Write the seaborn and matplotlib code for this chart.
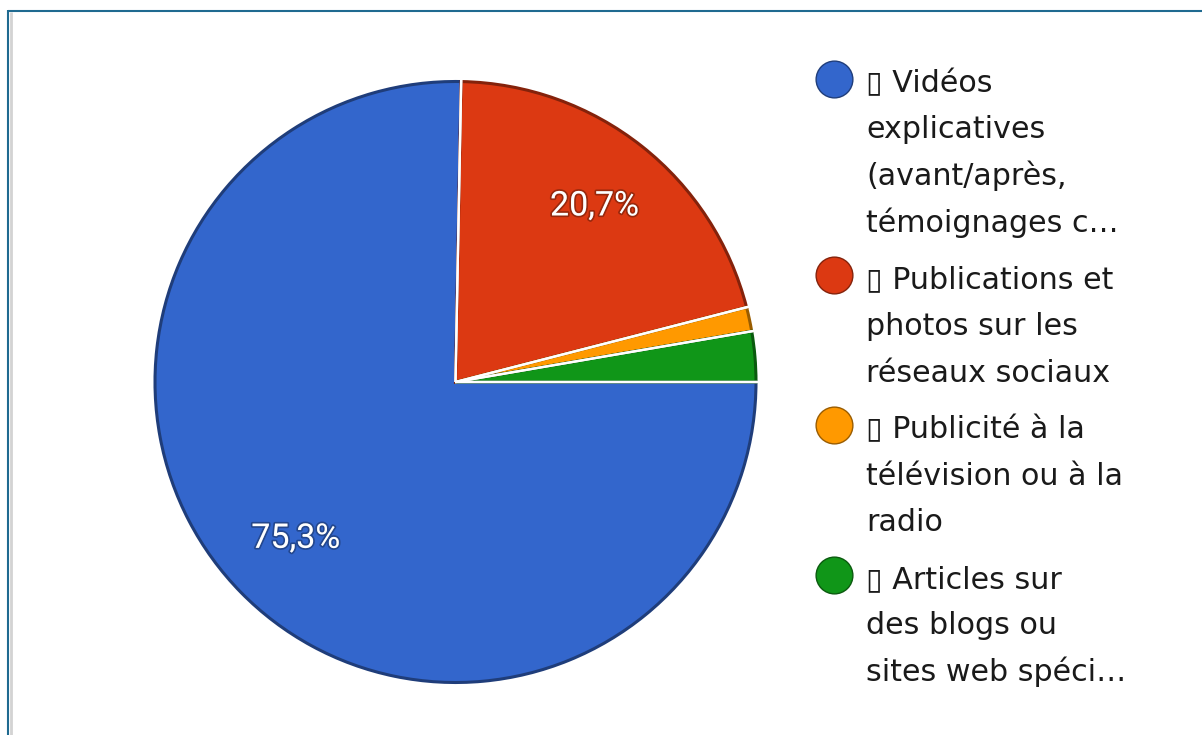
import numpy as np
import matplotlib
matplotlib.use("Agg")
import matplotlib.pyplot as plt
import matplotlib.patheffects as pe
from matplotlib.colors import to_rgb
import seaborn as sns

# Survey answers (wrapped as shown in the legend) and their shares in percent
labels = [
    "▯ Vidéos\nexplicatives\n(avant/après,\ntémoignages c…",
    "▯ Publications et\nphotos sur les\nréseaux sociaux",
    "▯ Publicité à la\ntélévision ou à la\nradio",
    "▯ Articles sur\ndes blogs ou\nsites web spéci…",
]
shares = [75.3, 20.7, 1.3, 2.7]
colors = ["#3366CC", "#DC3912", "#FF9900", "#109618"]

sns.set_theme(style="white")
plt.rcParams["font.family"] = ["Roboto", "DejaVu Sans"]

W, H = 1202, 735
fig = plt.figure(figsize=(W / 100, H / 100), dpi=100)
fig.patch.set_facecolor("white")


def darker(c, f=0.55):
    r, g, b = to_rgb(c)
    return (r * f, g * f, b * f)


# pie axes, sized in pixels: centre (455.5, 382), radius 300.5 px
cx, cy, rad = 455.5, 382.0, 300.5
lim = 1.05
side = 2 * lim * rad
ax = fig.add_axes([(cx - lim * rad) / W, (H - cy - lim * rad) / H, side / W, side / H])


def pct_fmt(p):
    return f"{p:.1f}".replace(".", ",") + "%" if p >= 5 else ""


wedges, _, autotexts = ax.pie(
    shares,
    colors=colors,
    startangle=0,
    counterclock=False,
    radius=1.0,
    autopct=pct_fmt,
    pctdistance=0.745,
    textprops=dict(color="white", fontsize=24.5),
)
for w, c in zip(wedges, colors):
    w.set_edgecolor(darker(c, 0.6))
    w.set_linewidth(2.2)
for t, c in zip(autotexts, colors):
    t.set_path_effects([pe.withStroke(linewidth=2.5, foreground=darker(c, 0.45) + (0.55,))])

# white separators along every wedge boundary
for w in wedges:
    for th in (w.theta1, w.theta2):
        a = np.deg2rad(th)
        ax.plot([0, 1.03 * np.cos(a)], [0, 1.03 * np.sin(a)], color="white",
                lw=1.7, solid_capstyle="butt", zorder=5)

ax.set_xlim(-lim, lim)
ax.set_ylim(-lim, lim)
ax.set_aspect("equal")
ax.axis("off")

# overlay in pixel units for the legend and the frame
ov = fig.add_axes([0, 0, 1, 1], zorder=-1)
ov.set_xlim(0, W)
ov.set_ylim(H, 0)
ov.axis("off")

line_h = 46.7
item_gap = 9.7
y = 91.7
for lab, c in zip(labels, colors):
    ov.scatter([833.5], [y - 12.8], s=700, color=c, edgecolor=darker(c, 0.6), linewidth=1.0)
    for j, line in enumerate(lab.split("\n")):
        ov.text(866, y + j * line_h, line, fontsize=21.7, family="DejaVu Sans",
                color="#1a1a1a", va="baseline", ha="left")
    y += len(lab.split("\n")) * line_h + item_gap

# frame: top and left rules with a faint grey shadow
ov.plot([10.5, 10.5], [12, H], color="#d3d3d3", lw=2.0, solid_capstyle="butt")
ov.plot([8.3, W], [10.8, 10.8], color="#1f6a90", lw=1.5, solid_capstyle="butt")
ov.plot([8.3, 8.3], [10.0, H], color="#1f6a90", lw=1.5, solid_capstyle="butt")

fig.savefig("out.png", dpi=100, facecolor="white")
